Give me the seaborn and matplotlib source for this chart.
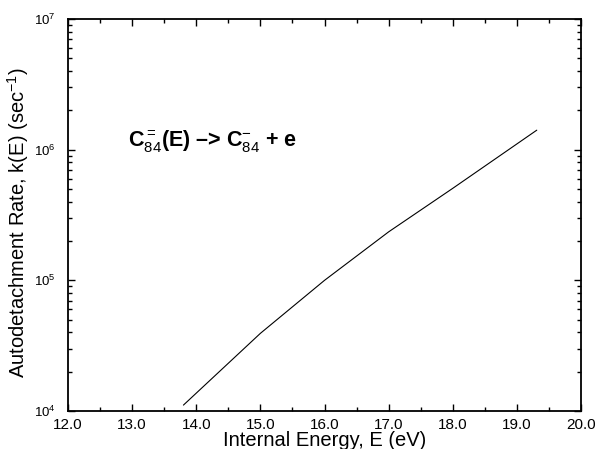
import pandas as pd
import matplotlib
matplotlib.use('Agg')
import matplotlib.pyplot as plt
import matplotlib.ticker as ticker
import seaborn as sns

# Style Setting
sns.set_style("ticks")
plt.rcParams.update({'font.family': ['Liberation Sans', 'DejaVu Sans'],
                     'mathtext.fontset': 'custom',
                     'mathtext.rm': 'Liberation Sans',
                     'mathtext.bf': 'Liberation Sans:bold',
                     'text.color': 'black', 'axes.labelcolor': 'black',
                     'xtick.color': 'black', 'ytick.color': 'black',
                     'xtick.direction': 'in', 'ytick.direction': 'in'})

### Data ###
energy = [13.80, 15.00, 16.00, 17.00, 18.00, 19.31]
rate = [1.11e4, 3.93e4, 1.00e5, 2.35e5, 5.06e5, 1.41e6]
x_ticks = [12.0, 13.0, 14.0, 15.0, 16.0, 17.0, 18.0, 19.0, 20.0]

df = pd.DataFrame({'E': energy, 'k': rate})

fig = plt.figure(figsize=(5.95, 4.49), dpi=100)
ax = fig.add_axes([0.1143, 0.0846, 0.8622, 0.8731])

sns.lineplot(data=df, x='E', y='k', color='black', linewidth=0.8, ax=ax)

ax.set_yscale('log')
ax.set_xlim(12, 20)
ax.set_ylim(1e4, 1e7)

# x axis
ax.xaxis.set_major_locator(ticker.FixedLocator(x_ticks))
ax.xaxis.set_major_formatter(ticker.FormatStrFormatter('%.1f'))
ax.xaxis.set_minor_locator(ticker.MultipleLocator(0.5))
ax.set_xlabel('Internal Energy, E (eV)', fontsize=14.5, labelpad=-1)

# y axis
ax.yaxis.set_major_locator(ticker.LogLocator(base=10, numticks=10))
ax.yaxis.set_minor_locator(ticker.LogLocator(base=10, subs=range(2, 10), numticks=20))
ax.yaxis.set_minor_formatter(ticker.NullFormatter())
ax.set_ylabel(r'Autodetachment Rate, k(E) (sec$^{-1}$)', fontsize=14.5)
ax.yaxis.set_label_coords(-0.072, 0.48)

ax.tick_params(which='both', top=True, right=True, width=1)
ax.tick_params(axis='x', which='major', labelsize=11, pad=5)
ax.tick_params(axis='y', which='major', labelsize=9.5, pad=9)
ax.tick_params(which='major', length=5)
ax.tick_params(which='minor', length=3)
for s in ax.spines.values():
    s.set_linewidth(1.3)
    s.set_color('black')

# reaction annotation
ax.text(0.117, 0.673, r'C$_{84}^{=}$(E) –> C$_{84}^{-}$ + e', transform=ax.transAxes,
        fontsize=15.5, fontweight='bold', color='black')

fig.savefig('out.png', dpi=100)
